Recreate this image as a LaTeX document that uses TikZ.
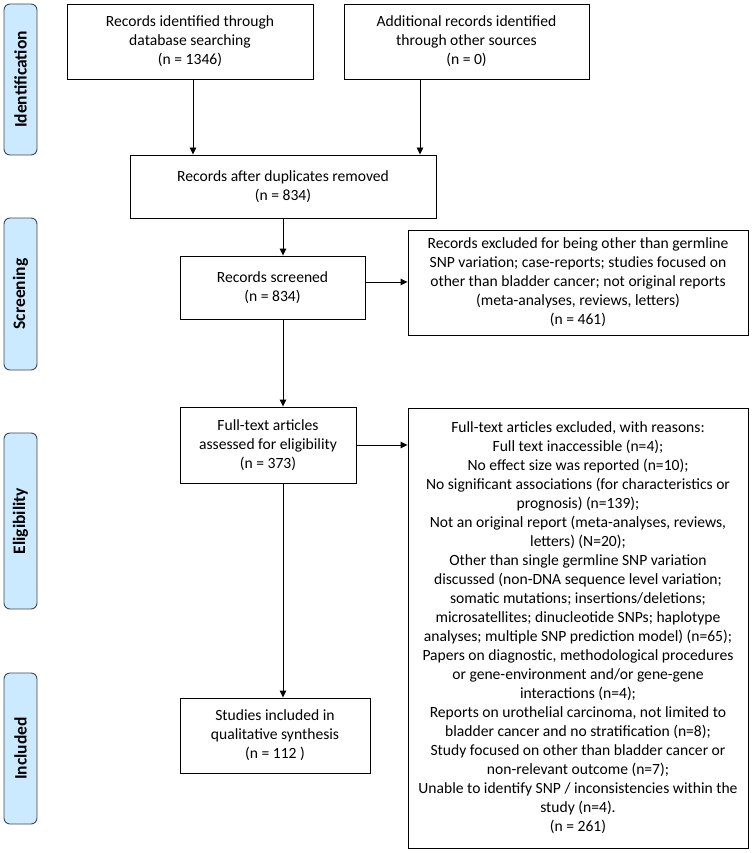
\documentclass[tikz,border=0pt]{standalone}
\usepackage{fontspec}
\setmainfont{Carlito}
\usepackage{xcolor}
\usepackage{tikz}
\usetikzlibrary{arrows.meta, calc}
\definecolor{tabblue}{RGB}{204,234,255}
\definecolor{tabedge}{RGB}{64,72,84}

\begin{document}
\begin{tikzpicture}[x=1pt, y=-1pt,
    box/.style={rectangle, draw=black, line width=0.9pt, align=center,
                inner sep=0pt, font=\fontsize{15.6}{19}\selectfont},
    tab/.style={rectangle, rounded corners=6pt, draw=tabedge, fill=tabblue,
                line width=0.9pt, minimum height=33pt, rotate=90,
                font=\fontsize{17.5}{20}\selectfont\bfseries},
    arrow/.style={-{Triangle[length=7pt,width=6.5pt]}, black, line width=0.9pt}
  ]
    \useasboundingbox (0,0) rectangle (752,853);

    % phase tabs
    \node[tab, minimum width=151pt] at (20.5, 79.5) (idtab) {Identification};
    \node[tab, minimum width=152pt] at (20.5, 294) (scrtab) {Screening};
    \node[tab, minimum width=176pt] at (20.5, 521) (elitab) {Eligibility};
    \node[tab, minimum width=151pt] at (20.5, 748.5) (inctab) {Included};

    % flow boxes
    \node[box, minimum width=246pt, minimum height=75pt] at (190, 41.5) (db)
      {Records identified through\\database searching\\(n = 1346)};
    \node[box, minimum width=245pt, minimum height=75pt] at (466.5, 41.5) (other)
      {Additional records identified\\through other sources\\(n = 0)};
    \node[box, minimum width=306pt, minimum height=63pt] at (283, 186.5) (dup)
      {Records after duplicates removed\\(n = 834)};
    \node[box, minimum width=185pt, minimum height=63pt] at (272.5, 287.5) (screened)
      {Records screened\\(n = 834)};
    \node[box, minimum width=340pt, minimum height=105pt] at (578, 282.5) (excla)
      {Records excluded for being other than germline\\
       SNP variation; case-reports; studies focused on\\
       other than bladder cancer; not original reports\\
       (meta-analyses, reviews, letters)\\(n = 461)};
    \node[box, minimum width=176pt, minimum height=76pt] at (268, 445) (fulltext)
      {Full-text articles\\assessed for eligibility\\(n = 373)};
    \node[box, minimum width=340pt, minimum height=440pt] at (578, 628) (exclb)
      {Full-text articles excluded, with reasons:\\
       Full text inaccessible (n=4);\\
       No effect size was reported (n=10);\\
       No significant associations (for characteristics or\\
       prognosis) (n=139);\\
       Not an original report (meta-analyses, reviews,\\
       letters) (N=20);\\
       Other than single germline SNP variation\\
       discussed (non-DNA sequence level variation;\\
       somatic mutations; insertions/deletions;\\
       microsatellites; dinucleotide SNPs; haplotype\\
       analyses; multiple SNP prediction model) (n=65);\\
       Papers on diagnostic, methodological procedures\\
       or gene-environment and/or gene-gene\\
       interactions (n=4);\\
       Reports on urothelial carcinoma, not limited to\\
       bladder cancer and no stratification (n=8);\\
       Study focused on other than bladder cancer or\\
       non-relevant outcome (n=7);\\
       Unable to identify SNP / inconsistencies within the\\
       study (n=4).\\
       (n = 261)};
    \node[box, minimum width=190pt, minimum height=75pt] at (275, 735.5) (included)
      {Studies included in\\qualitative synthesis\\(n = 112 )};

    % connectors
    \draw[arrow] ([xshift=3pt]db.south) -- ([xshift=3pt]db.south |- dup.north);
    \draw[arrow] ([xshift=-46.5pt]other.south) -- ([xshift=-46.5pt]other.south |- dup.north);
    \draw[arrow] (dup.south) -- (dup.south |- screened.north);
    \draw[arrow] ([yshift=5.5pt]screened.east) -- ([yshift=5.5pt]screened.east -| excla.west);
    \draw[arrow] (screened.south -| dup.south) -- (fulltext.north -| dup.south);
    \draw[arrow] (fulltext.east) -- (fulltext.east -| exclb.west);
    \draw[arrow] (fulltext.south -| dup.south) -- (included.north -| dup.south);
  \end{tikzpicture}
\end{document}
